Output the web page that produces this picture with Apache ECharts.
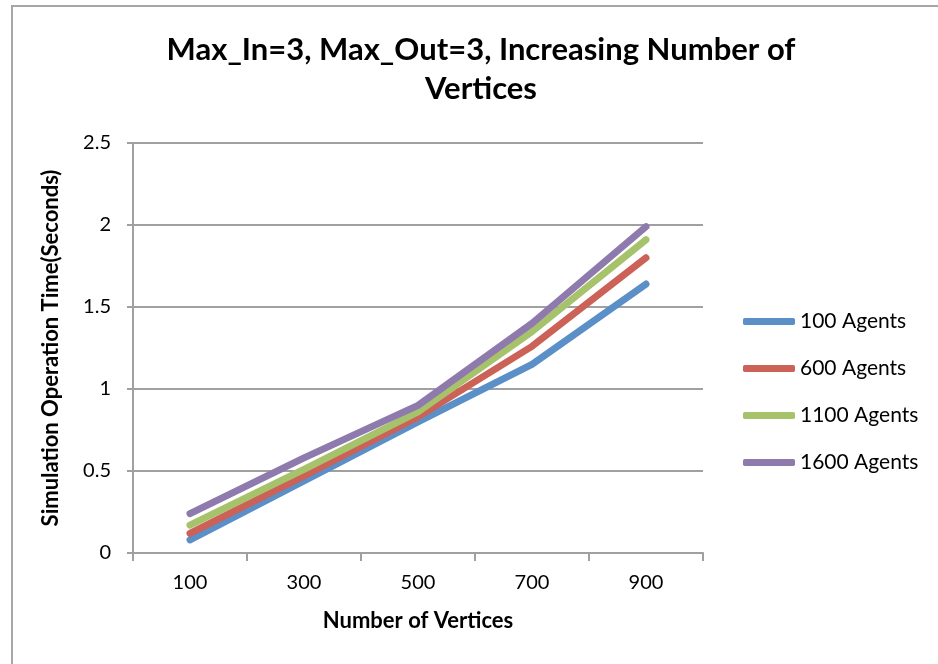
<!DOCTYPE html>
<html>
<head>
<meta charset="utf-8">
<script src="https://cdn.jsdelivr.net/npm/echarts@6/dist/echarts.min.js"></script>
<style>
  html, body { margin: 0; padding: 0; background: #fff; }
  #chart_con { width: 938px; height: 664px; }
  #frame { position: absolute; left: 11px; top: 5px; width: 940px; height: 700px; border: 2px solid #a6a6a6; box-sizing: border-box; pointer-events: none; }
</style>
</head>
<body>
<div id="chart_con"></div>
<div id="frame"></div>
<script>
// data
const vertices = ['100', '300', '500', '700', '900'];
const seriesNames = ['100 Agents', '600 Agents', '1100 Agents', '1600 Agents'];
const agents100 = [0.08, 0.44, 0.80, 1.15, 1.64];
const agents600 = [0.12, 0.47, 0.83, 1.26, 1.80];
const agents1100 = [0.17, 0.51, 0.86, 1.35, 1.91];
const agents1600 = [0.24, 0.58, 0.90, 1.40, 1.99];
const colors = ['#5b8fc8', '#cc6157', '#a6c26a', '#8f7aae'];

const font = 'Lato, "Open Sans", sans-serif';
const grey = '#a0a0a0';

const allData = [agents100, agents600, agents1100, agents1600];
const series = allData.map((vals, i) => ({
    name: seriesNames[i],
    type: 'line',
    data: vals,
    symbol: 'none',
    lineStyle: { width: 7, color: colors[i], cap: 'round', join: 'round' },
    itemStyle: { color: colors[i] }
}));

const option = {
    backgroundColor: '#fff',
    animation: false,
    color: colors,
    title: {
        text: 'Max_In=3, Max_Out=3, Increasing Number of\nVertices',
        left: 476,
        top: 25,
        textAlign: 'center',
        textStyle: { fontFamily: font, fontWeight: 'bold', fontSize: 31, lineHeight: 39, color: '#000' }
    },
    legend: {
        orient: 'vertical',
        left: 738,
        top: 306,
        itemWidth: 52,
        itemHeight: 7,
        itemGap: 26,
        icon: 'roundRect',
        textStyle: { fontFamily: font, fontSize: 21, lineHeight: 21, color: '#000' },
        data: seriesNames
    },
    grid: { left: 133, top: 143, right: 235, bottom: 111 },
    xAxis: {
        type: 'category',
        data: vertices,
        boundaryGap: true,
        name: 'Number of Vertices',
        nameLocation: 'middle',
        nameGap: 57,
        nameTextStyle: { fontFamily: font, fontWeight: 'bold', fontSize: 22, color: '#000' },
        axisLine: { lineStyle: { color: grey, width: 2 } },
        axisTick: { show: true, length: 8, lineStyle: { color: grey, width: 2 } },
        axisLabel: { fontFamily: font, fontSize: 20, color: '#000', margin: 20 },
        splitLine: { show: false }
    },
    yAxis: {
        type: 'value',
        min: 0,
        max: 2.5,
        interval: 0.5,
        name: 'Simulation Operation Time(Seconds)',
        nameLocation: 'middle',
        nameRotate: 90,
        nameGap: 71,
        nameTextStyle: { fontFamily: font, fontWeight: 'bold', fontSize: 22, color: '#000' },
        axisLine: { show: true, lineStyle: { color: grey, width: 2 } },
        axisTick: { show: true, length: 6, lineStyle: { color: grey, width: 2 } },
        axisLabel: { fontFamily: font, fontSize: 20, color: '#000', margin: 22 },
        splitLine: { show: true, lineStyle: { color: grey, width: 2 } }
    },
    series: series
};

const chart = echarts.init(document.getElementById('chart_con'));
chart.setOption(option);
window.addEventListener('resize', function () {
    chart.resize();
});
</script>
</body>
</html>
